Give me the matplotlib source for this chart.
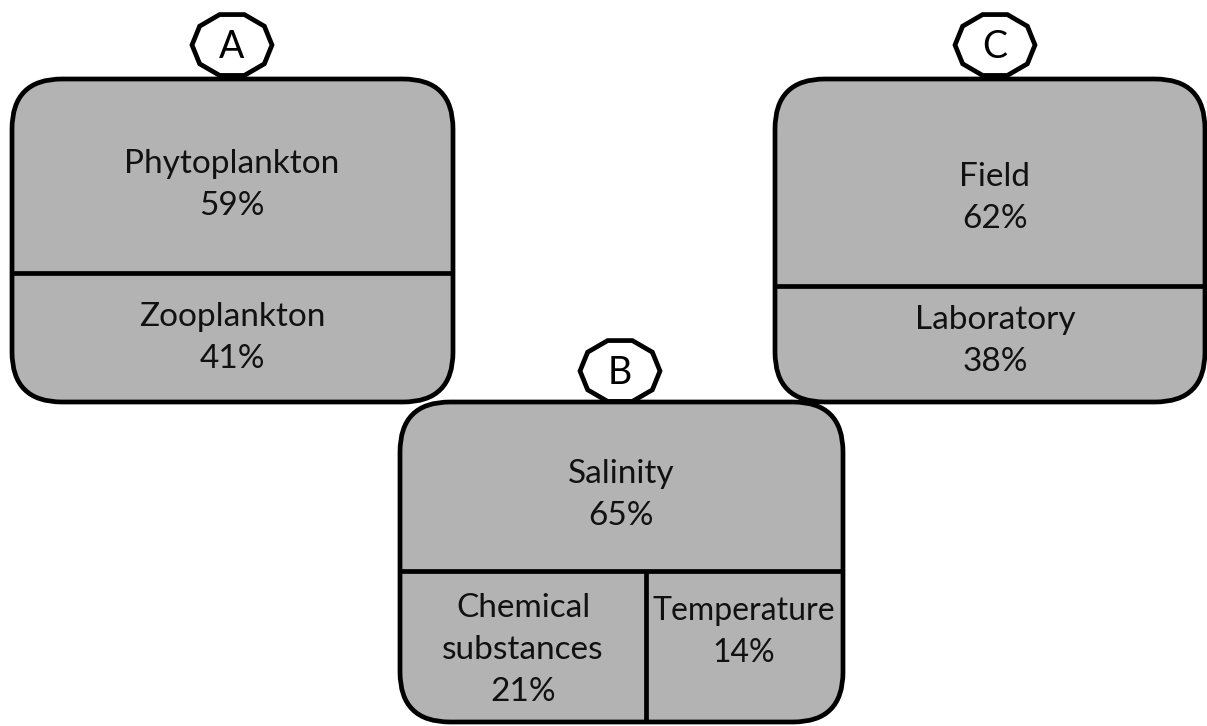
import numpy as np
import matplotlib.pyplot as plt
from matplotlib.patches import FancyBboxPatch, Polygon

# chart content
panels = ["A", "B", "C"]
labels_a = ["Phytoplankton", "Zooplankton"]
values_a = [59, 41]
labels_b = ["Salinity", "Chemical\nsubstances", "Temperature"]
values_b = [65, 21, 14]
labels_c = ["Field", "Laboratory"]
values_c = [62, 38]

plt.rcParams['font.family'] = ['Lato', 'DejaVu Sans']

W, H = 1207, 726
fig = plt.figure(figsize=(W / 100, H / 100), dpi=100)
ax = fig.add_axes([0, 0, 1, 1])
ax.set_xlim(0, W)
ax.set_ylim(H, 0)
ax.axis("off")

grey = "#b3b3b3"
lw = 3.4
fs = 24
ls = 1.5
rad = 50

def box(x0, y0, x1, y1):
    p = FancyBboxPatch((x0 + rad, y0 + rad), (x1 - x0) - 2 * rad, (y1 - y0) - 2 * rad,
                       boxstyle="round,pad=%d,rounding_size=%d" % (rad, rad),
                       fc=grey, ec="black", lw=lw, zorder=2)
    ax.add_patch(p)

def divider(xs, ys):
    ax.plot(xs, ys, color="black", lw=lw, zorder=3, solid_capstyle="butt")

def badge(cx, cy, letter, rx=40, ry=32):
    ang = np.deg2rad(np.arange(10) * 36)
    pts = np.column_stack([cx + rx * np.cos(ang), cy + ry * np.sin(ang)])
    ax.add_patch(Polygon(pts, closed=True, fc="white", ec="black", lw=lw, zorder=1))
    ax.text(cx, cy + 2, letter, ha="center", va="center", fontsize=fs + 3, zorder=3)

def label(x, y, name, val, size=fs):
    ax.text(x, y, "%s\n%d%%" % (name, val), ha="center", va="center",
            fontsize=size, linespacing=ls, zorder=4, color="#111111")

# panel A
badge(232, 45, panels[0])
box(12, 79, 453, 402)
divider([12, 453], [273, 273])
label(232, 185, labels_a[0], values_a[0])
label(232, 338, labels_a[1], values_a[1])

# panel C
badge(995, 45, panels[2])
box(775, 79, 1205, 402)
divider([775, 1205], [286, 286])
label(995, 198, labels_c[0], values_c[0])
label(995, 341, labels_c[1], values_c[1])

# panel B
badge(620, 371, panels[1])
box(400, 402, 843, 722)
divider([400, 843], [571, 571])
divider([646, 646], [571, 722])
label(621, 495, labels_b[0], values_b[0])
label(523, 650, labels_b[1], values_b[1])
label(744, 632, labels_b[2], values_b[2], size=fs - 1)

fig.savefig("out.png", dpi=100)
